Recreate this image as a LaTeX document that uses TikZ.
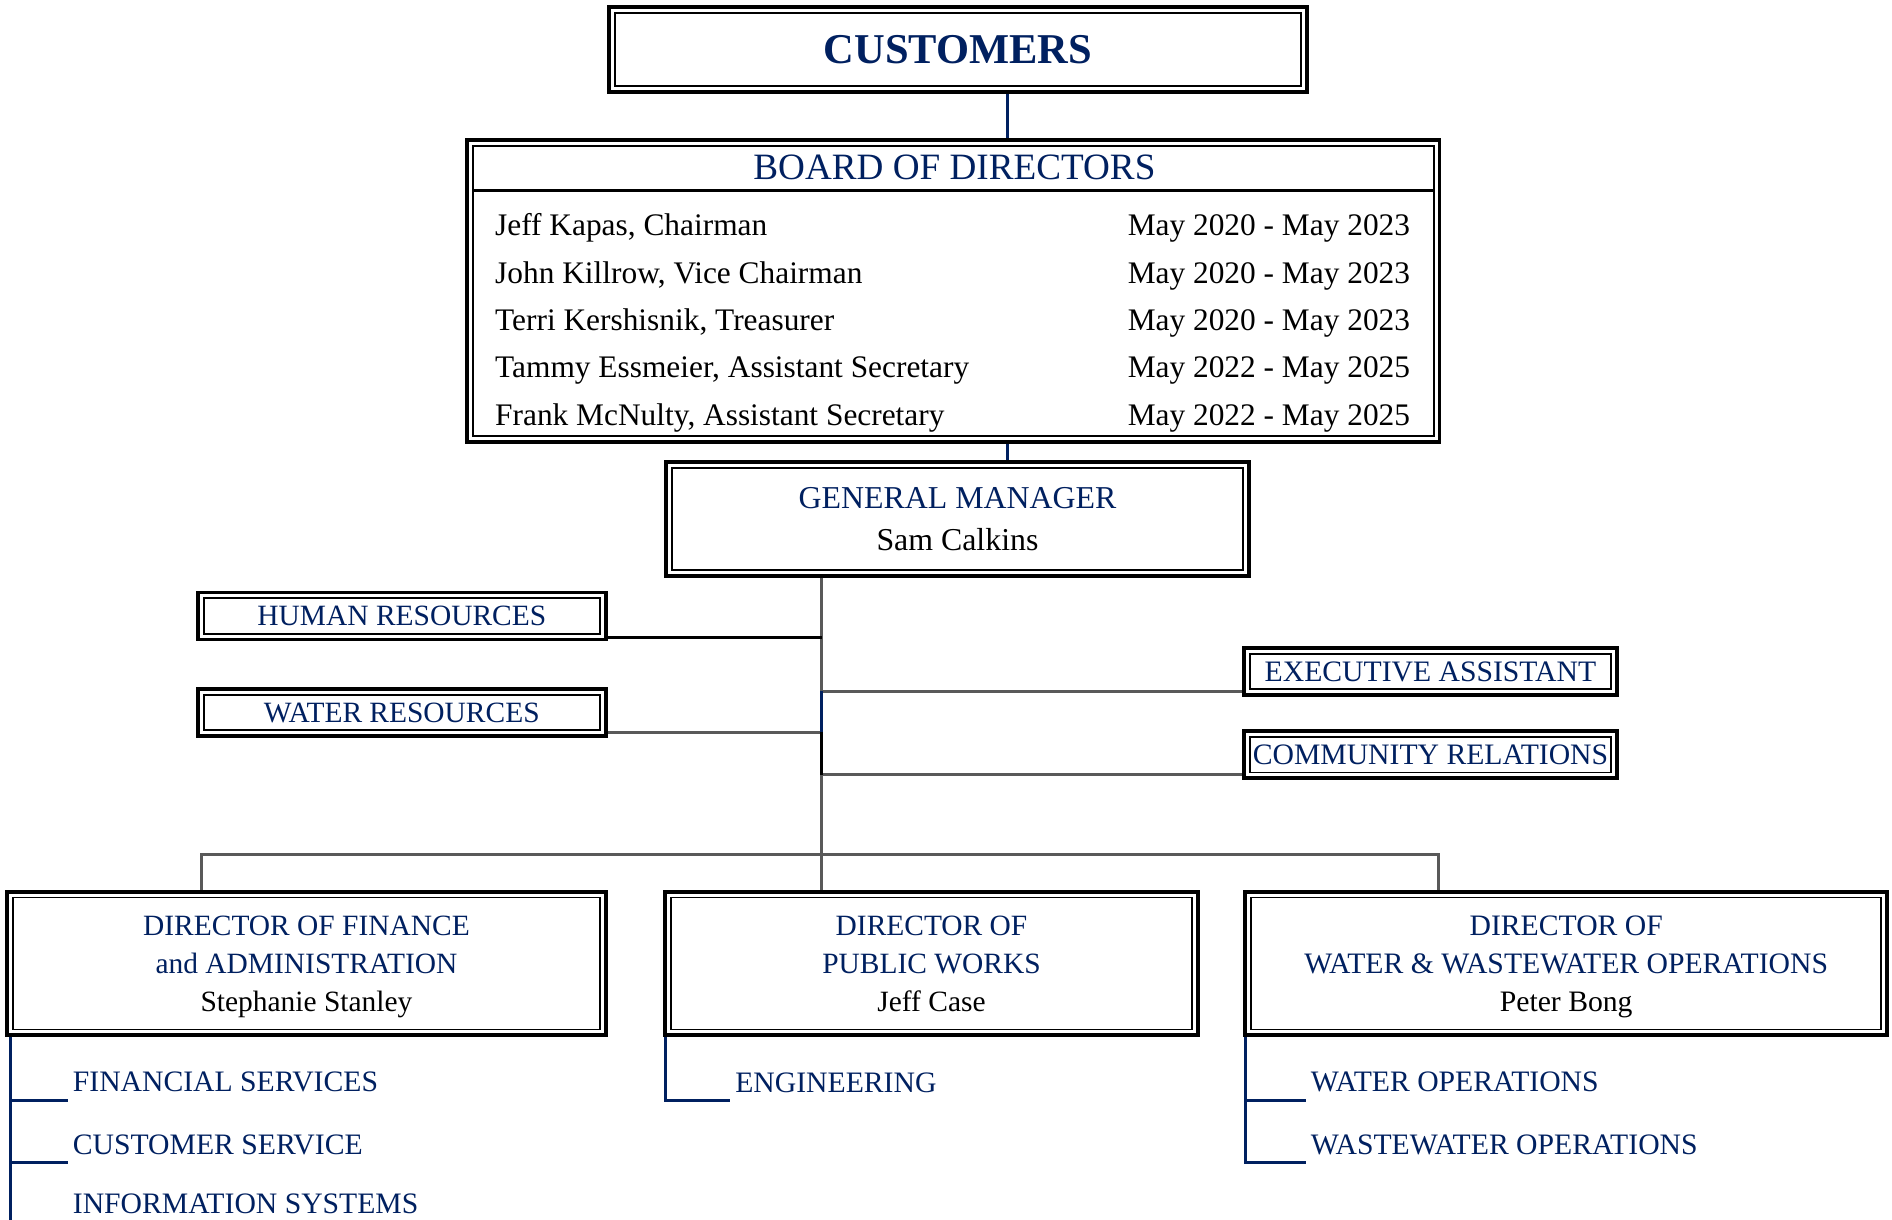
\documentclass[tikz,border=0pt]{standalone}
\usepackage{fontspec}
\setmainfont{Liberation Serif}
\usepackage{tikz,pgf}

\definecolor{navy}{RGB}{0,32,96}
\definecolor{linegray}{RGB}{89,89,89}

\tikzset{
    dblbox/.style={draw=black,line width=1.6pt,fill=white,inner sep=0pt,text=navy,
        path picture={\draw[draw=black,line width=0.8pt]
            ([shift={(2.4pt,-2.4pt)}]path picture bounding box.north west) rectangle
            ([shift={(-2.4pt,2.4pt)}]path picture bounding box.south east);}},
    grayline/.style={draw=linegray,line width=1.1pt},
    navyline/.style={draw=navy,line width=1.2pt},
    blackline/.style={draw=black,line width=1.2pt},
    sublabel/.style={anchor=west,inner sep=0pt,text=navy,font=\fontsize{12.3}{14}\selectfont},
    member/.style={inner sep=0pt,font=\fontsize{13}{15}\selectfont},
}

\begin{document}
\begin{tikzpicture}[x=0.5pt,y=-0.5pt]
    \useasboundingbox (0,0) rectangle (1568,1011);

    \node[dblbox,minimum width=289pt,minimum height=35pt,font=\bfseries\fontsize{17.6}{20}\selectfont] (cust) at (794,41) {CUSTOMERS};

    \node[dblbox,minimum width=403pt,minimum height=125pt] (board) at (790,241) {};
    \node[text=navy,inner sep=0pt,font=\fontsize{15.4}{18}\selectfont] (boardtitle) at (791,139) {BOARD OF DIRECTORS};
    \draw[line width=1.2pt] (392,158) -- (1188,158);

    \node[member,anchor=base west] (m1) at (410,195.5) {Jeff Kapas, Chairman};
    \node[member,anchor=base west] (m2) at (410,234.75) {John Killrow, Vice Chairman};
    \node[member,anchor=base west] (m3) at (410,274) {Terri Kershisnik, Treasurer};
    \node[member,anchor=base west] (m4) at (410,313.25) {Tammy Essmeier, Assistant Secretary};
    \node[member,anchor=base west] (m5) at (410,352.5) {Frank McNulty, Assistant Secretary};
    \node[member,anchor=base east] (t1) at (1169,195.5) {May 2020 - May 2023};
    \node[member,anchor=base east] (t2) at (1169,234.75) {May 2020 - May 2023};
    \node[member,anchor=base east] (t3) at (1169,274) {May 2020 - May 2023};
    \node[member,anchor=base east] (t4) at (1169,313.25) {May 2022 - May 2025};
    \node[member,anchor=base east] (t5) at (1169,352.5) {May 2022 - May 2025};

    \node[dblbox,minimum width=241.5pt,minimum height=47pt,align=center,text depth=-1pt,
        font=\fontsize{13.2}{17.5}\selectfont] (gm) at (793.5,430) {GENERAL MANAGER\\\textcolor{black}{Sam Calkins}};

    \node[dblbox,minimum width=169pt,minimum height=19.5pt,font=\fontsize{12.2}{14}\selectfont] (hr) at (333,510.5) {HUMAN RESOURCES};
    \node[dblbox,minimum width=169pt,minimum height=19.5pt,font=\fontsize{12.2}{14}\selectfont] (wr) at (333,590.5) {WATER RESOURCES};
    \node[dblbox,minimum width=154.5pt,minimum height=19.5pt,font=\fontsize{12.3}{14}\selectfont] (ea) at (1185.5,556.5) {EXECUTIVE ASSISTANT};
    \node[dblbox,minimum width=154.5pt,minimum height=19.5pt,font=\fontsize{12.3}{14}\selectfont] (cr) at (1185.5,625.5) {COMMUNITY RELATIONS};

    \node[dblbox,minimum width=248pt,minimum height=59.5pt,align=center,text depth=-2pt,
        font=\fontsize{12.2}{15.75}\selectfont] (fin) at (254,798.5) {DIRECTOR OF FINANCE\\and ADMINISTRATION\\\textcolor{black}{Stephanie Stanley}};
    \node[dblbox,minimum width=221pt,minimum height=59.5pt,align=center,text depth=-2pt,
        font=\fontsize{12.2}{15.75}\selectfont] (pw) at (772,798.5) {DIRECTOR OF\\PUBLIC WORKS\\\textcolor{black}{Jeff Case}};
    \node[dblbox,minimum width=266pt,minimum height=59.5pt,align=center,text depth=-2pt,
        font=\fontsize{12.3}{15.75}\selectfont] (ww) at (1298,798.5) {DIRECTOR OF\\WATER \& WASTEWATER OPERATIONS\\\textcolor{black}{Peter Bong}};

    \node[sublabel] (fs) at (60,897) {FINANCIAL SERVICES};
    \node[sublabel] (cs) at (60,949) {CUSTOMER SERVICE};
    \node[sublabel] (is) at (60,998) {INFORMATION SYSTEMS};
    \node[sublabel] (eng) at (609,897) {ENGINEERING};
    \node[sublabel] (wo) at (1086,897) {WATER OPERATIONS};
    \node[sublabel] (wwo) at (1086,949) {WASTEWATER OPERATIONS};

    \coordinate (cx) at (835,0);
    \coordinate (jhr) at (681,528);
    \coordinate (jea) at (681,573);
    \coordinate (jwr) at (681,607);
    \coordinate (jcr) at (681,642);
    \coordinate (busl) at (167,708);
    \coordinate (busm) at (681,708);
    \coordinate (busr) at (1192,708);
    \coordinate (finbar) at (9,1011);

    \draw[navyline] (cust.south -| cx) -- (board.north -| cx);
    \draw[navyline] (board.south -| cx) -- (gm.north -| cx);
    \draw[grayline] (gm.south -| busm) -- (pw.north -| busm);
    \draw[blackline] (hr.east |- jhr) -- (jhr);
    \draw[grayline] (wr.east |- jwr) -- (jwr);
    \draw[grayline] (jea) -- (ea.west |- jea);
    \draw[grayline] (jcr) -- (cr.west |- jcr);
    \draw[navyline] (jea) -- (jwr);
    \draw[blackline] (jwr) -- (jcr);
    \draw[grayline] (fin.north -| busl) -- (busl) -- (busr) -- (ww.north -| busr);

    \draw[navyline] (fin.south -| finbar) -- (finbar);
    \draw[navyline] (fin.south -| finbar) |- ([xshift=-2pt,yshift=-3pt]fs.south west);
    \draw[navyline] (fin.south -| finbar) |- ([xshift=-2pt,yshift=-3pt]cs.south west);
    \draw[navyline] ([xshift=1pt]pw.south west) |- ([xshift=-2pt,yshift=-3pt]eng.south west);
    \draw[navyline] ([xshift=1pt]ww.south west) |- ([xshift=-2pt,yshift=-3pt]wo.south west);
    \draw[navyline] ([xshift=1pt]ww.south west) |- ([xshift=-2pt,yshift=-3pt]wwo.south west);
\end{tikzpicture}
\end{document}
